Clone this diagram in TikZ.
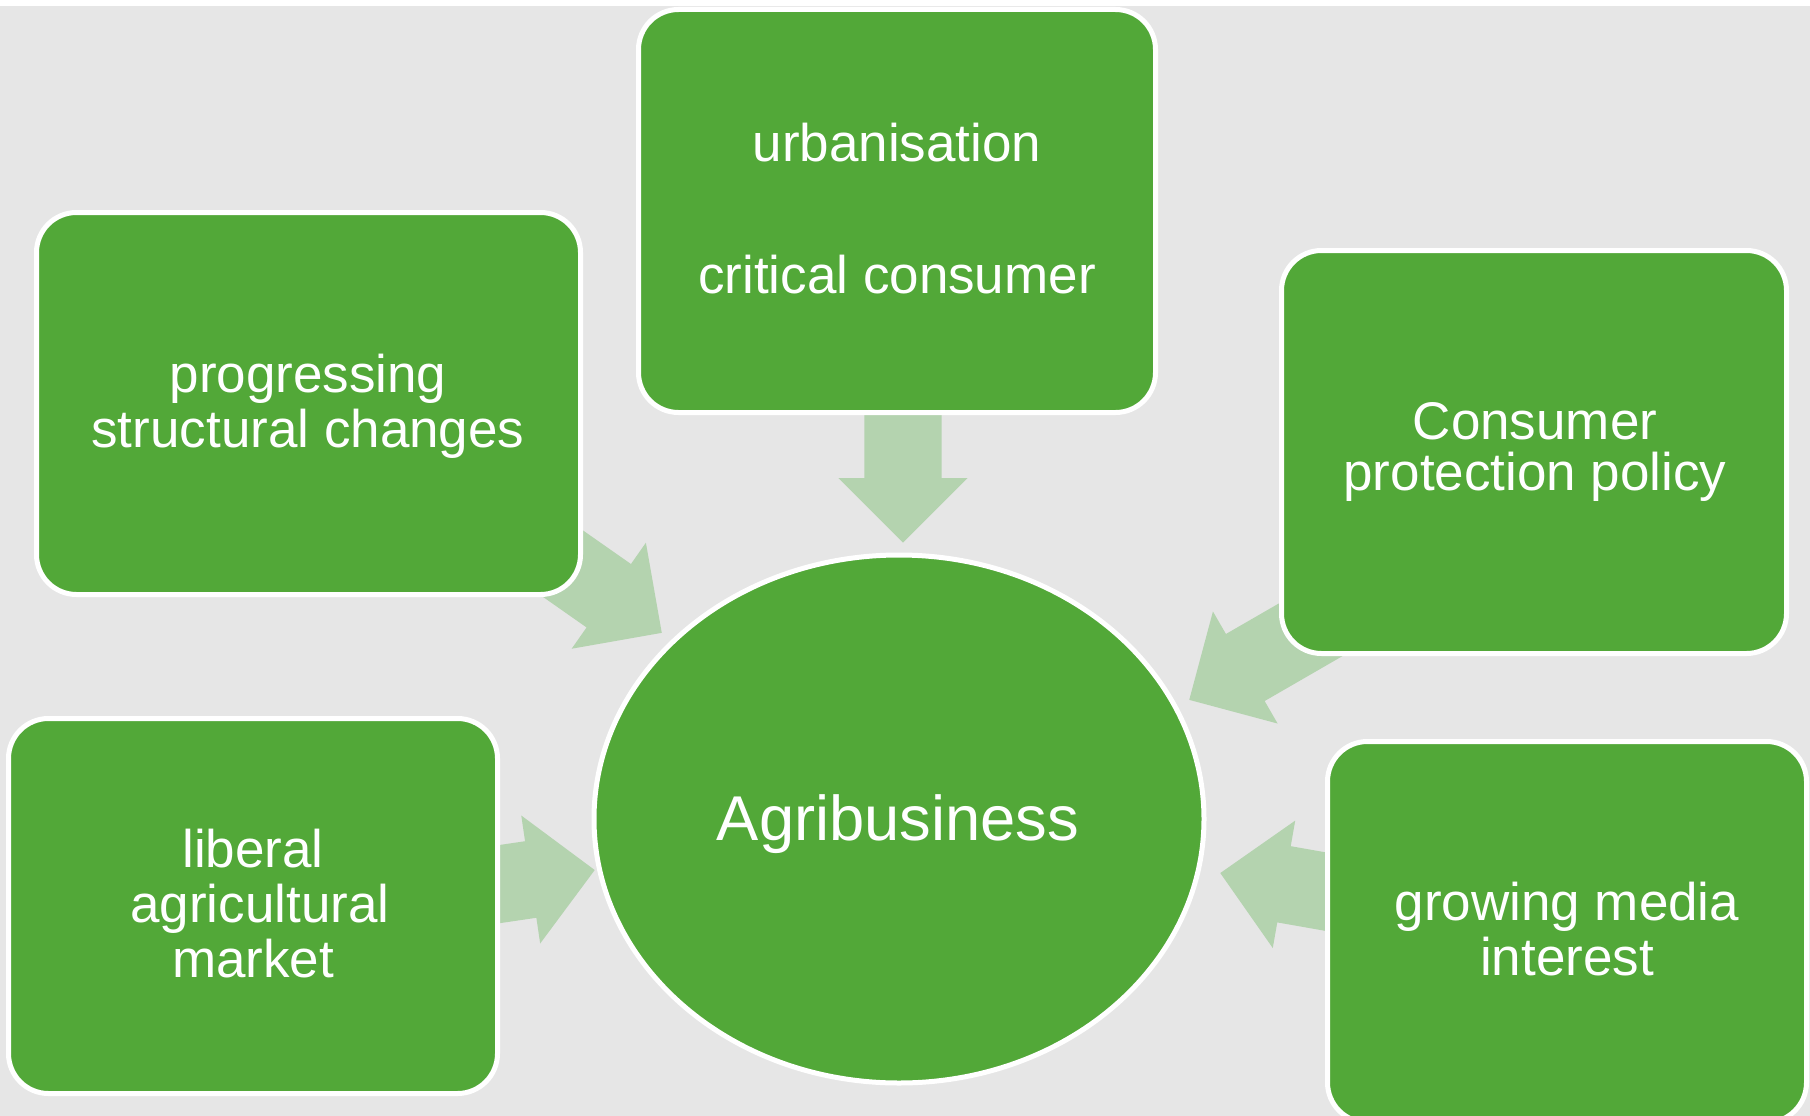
\documentclass[tikz,border=0pt]{standalone}
\usepackage{fontspec}
\setmainfont{Liberation Sans}
\usetikzlibrary{shapes.geometric,shapes.arrows}
\definecolor{leaf}{RGB}{82,168,56}
\definecolor{pale}{RGB}{180,211,175}
\definecolor{canvas}{RGB}{230,230,230}
\begin{document}
\begin{tikzpicture}[x=1pt,y=-1pt,
  factor/.style={draw=white, line width=5pt, fill=leaf, rounded corners=40pt,
    inner sep=0pt, outer sep=0pt},
  hub/.style={ellipse, draw=white, line width=5pt, fill=leaf, inner sep=0pt},
  influence/.style={single arrow, fill=pale, draw=none, inner xsep=0pt,
    inner ysep=38.5pt, minimum width=129pt, single arrow head extend=26pt,
    single arrow tip angle=90, anchor=tip},
  caption/.style={text=white, anchor=base, inner sep=0pt,
    font=\fontsize{53}{55}\selectfont},
]
\useasboundingbox (0,0) rectangle (1810,1116);
\fill[white] (0,0) rectangle (1810,1116);
\fill[canvas] (0,6) rectangle (1810,1116);

% block arrows pointing at the hub (tails hidden under the boxes)
\node[influence, rotate=-90, minimum height=160pt] (arrB) at (903,543) {};
\node[influence, rotate=-35, minimum height=150pt] (arrA) at (662,633) {};
\node[influence, rotate=210, minimum height=200pt] (arrC) at (1189,700) {};
\node[influence, rotate=8.4, minimum height=150pt] (arrD) at (595,870) {};
\node[influence, rotate=170, minimum height=150pt] (arrE) at (1220,873) {};

% factor boxes
\node[factor, minimum width=544pt, minimum height=382pt] (boxA) at (308.5,403.5) {};
\node[factor, minimum width=517pt, minimum height=403pt] (boxB) at (897,211) {};
\node[factor, minimum width=505pt, minimum height=403pt] (boxC) at (1534,452) {};
\node[factor, minimum width=489pt, minimum height=375pt] (boxD) at (253,906) {};
\node[factor, minimum width=479pt, minimum height=381pt] (boxE) at (1567,932) {};

% central hub
\node[hub, minimum width=610pt, minimum height=528pt] (hub) at (899,819) {};

% labels
\node[caption] (txtA) at (308,392)
  {\begin{tabular}[t]{@{}c@{}}progressing\\structural changes\end{tabular}};
\node[caption] (txtB) at (897,161)
  {\begin{tabular}[t]{@{}c@{}}urbanisation\\[77pt]critical consumer\end{tabular}};
\node[caption] (txtC) at (1535,439)
  {\begin{tabular}[t]{@{}c@{}}Consumer\\[-4pt]protection policy\end{tabular}};
\node[caption] (txtD) at (253,867)
  {\begin{tabular}[t]{@{}c@{}}liberal\\\hspace*{14pt}agricultural\\market\end{tabular}};
\node[caption] (txtE) at (1567,920)
  {\begin{tabular}[t]{@{}c@{}}growing media\\interest\end{tabular}};
\node[text=white, anchor=base, inner sep=0pt, font=\fontsize{63.3}{70}\selectfont]
  (txtHub) at (898,840) {Agribusiness};
\end{tikzpicture}
\end{document}
